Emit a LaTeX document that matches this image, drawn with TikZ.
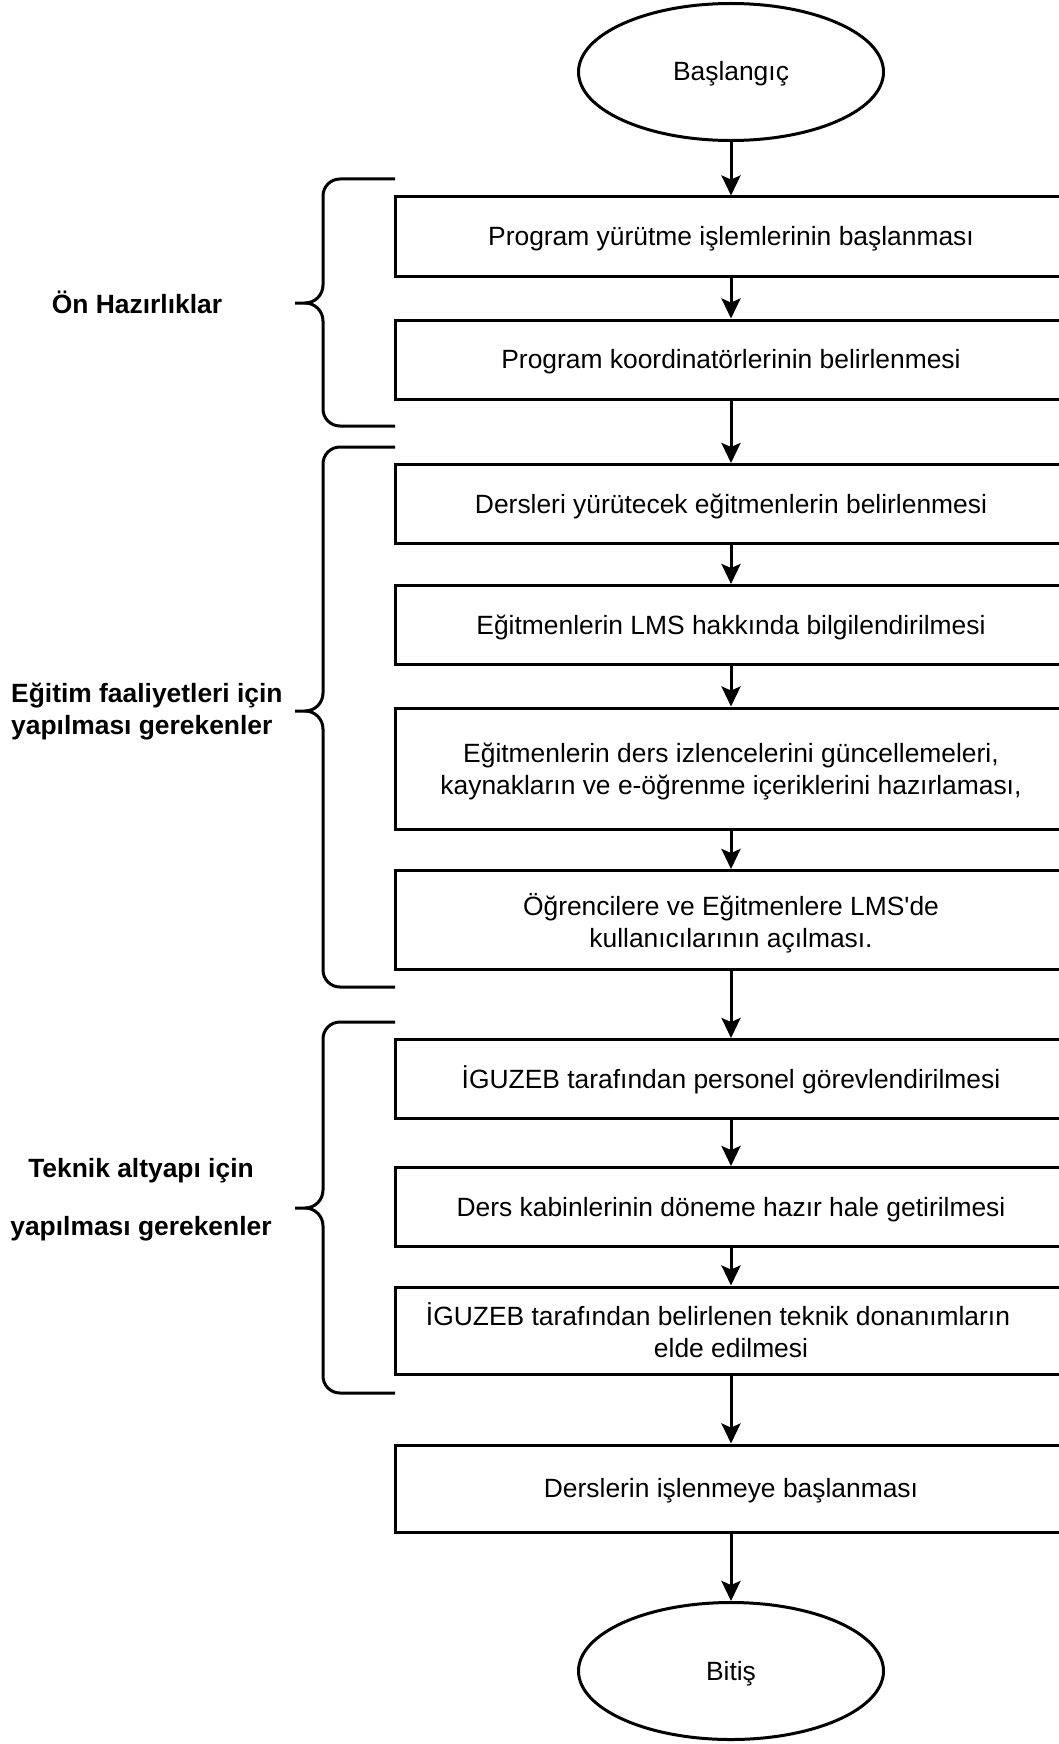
\documentclass[tikz,border=0pt]{standalone}
\usepackage{fontspec}
\setmainfont{Liberation Sans}[Ligatures=TeXOff]
\usetikzlibrary{shapes.geometric,arrows.meta}

\tikzset{
    stepbox/.style={draw, line width=3pt, minimum width=672pt, minimum height=79pt,
        inner sep=0pt, align=center, text height=24pt, text depth=6pt,
        font=\fontsize{26.4}{32}\selectfont},
    twoline/.style={text height=, text depth=0pt},
    terminal/.style={ellipse, draw, line width=3pt, minimum width=305pt, minimum height=137pt,
        inner sep=0pt, text height=24pt, text depth=6pt, font=\fontsize{26.4}{32}\selectfont},
    flow/.style={line width=3pt, -{Stealth[length=20pt,width=19pt,inset=4pt]}},
    grouplabel/.style={font=\bfseries\fontsize{26.4}{32}\selectfont, inner sep=0pt},
    brace/.style={line width=3pt, line join=round}
}

\begin{document}
\begin{tikzpicture}[x=1pt,y=-1pt]
    \useasboundingbox (0,0) rectangle (1058,1744);

    % Start and end
    \node[terminal] (start) at (731,72) {Başlangıç};
    \node[terminal] (finish) at (731,1671) {Bitiş};

    % Steps
    \node[stepbox] (s1) at (731,236.5) {Program yürütme işlemlerinin başlanması};
    \node[stepbox] (s2) at (731,359.5) {Program koordinatörlerinin belirlenmesi};
    \node[stepbox] (s3) at (731,504) {Dersleri yürütecek eğitmenlerin belirlenmesi};
    \node[stepbox] (s4) at (731,625) {Eğitmenlerin LMS hakkında bilgilendirilmesi};
    \node[stepbox, twoline, minimum height=121pt] (s5) at (731,768.5)
        {Eğitmenlerin ders izlencelerini güncellemeleri,\\kaynakların ve e-öğrenme içeriklerini hazırlaması,};
    \node[stepbox, twoline, minimum height=99pt] (s6) at (731,920)
        {Öğrencilere ve Eğitmenlere LMS'de\\kullanıcılarının açılması.};
    \node[stepbox] (s7) at (731,1079) {İGUZEB tarafından personel görevlendirilmesi};
    \node[stepbox] (s8) at (731,1207) {Ders kabinlerinin döneme hazır hale getirilmesi};
    \node[stepbox, twoline, minimum height=87pt] (s9) at (731,1330.5)
        {İGUZEB tarafından belirlenen teknik donanımların\hspace*{26pt}\\elde edilmesi};
    \node[stepbox, minimum height=87pt] (s10) at (731,1488.5) {Derslerin işlenmeye başlanması};

    % Arrows
    \foreach \a/\b in {start/s1, s1/s2, s2/s3, s3/s4, s4/s5, s5/s6, s6/s7, s7/s8, s8/s9, s9/s10, s10/finish}
        \draw[flow] (\a) -- (\b);

    % Braces
    \foreach \top/\mid/\bot in {179/303/426, 447/711/987, 1022/1208/1393} {
        \draw[brace] (395,\top) -- (340,\top) to[out=180,in=90] (323,\top+17)
            -- (323,\mid-18) to[out=-90,in=0] (305,\mid) -- (295,\mid);
        \draw[brace] (395,\bot) -- (340,\bot) to[out=180,in=-90] (323,\bot-17)
            -- (323,\mid+18) to[out=90,in=0] (305,\mid);
    }

    % Group labels
    \node[grouplabel] (pre) at (137,302) {Ön Hazırlıklar};
    \node[grouplabel, anchor=west, align=left] (edu) at (11,712)
        {Eğitim faaliyetleri için\\yapılması gerekenler};
    \node[grouplabel, align=center] (tech) at (141,1200)
        {Teknik altyapı için\\[26pt]yapılması gerekenler};
\end{tikzpicture}
\end{document}
